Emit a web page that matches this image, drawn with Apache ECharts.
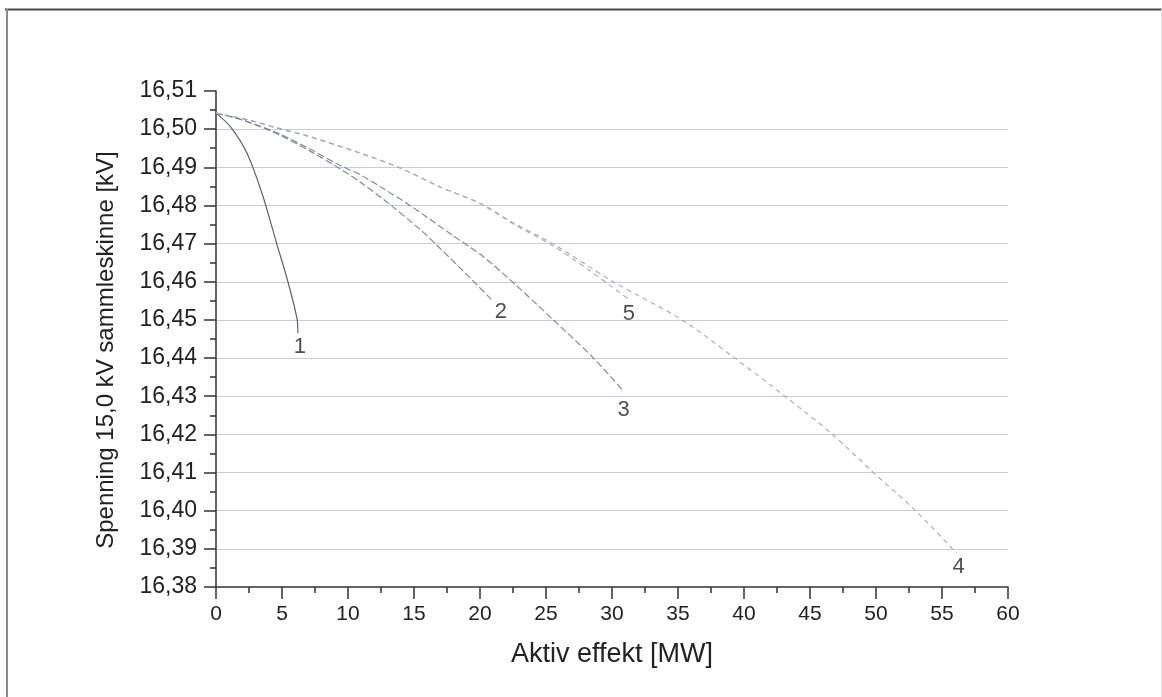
<!DOCTYPE html>
<html>
<head>
<meta charset="utf-8">
<title>Spenning 15,0 kV sammleskinne</title>
<script src="https://cdn.jsdelivr.net/npm/echarts@6/dist/echarts.min.js"></script>
<style>
  html, body { margin: 0; padding: 0; background: #ffffff; }
  #chart { width: 1162px; height: 697px; }
</style>
</head>
<body>
<div id="chart"></div>
<script>
// Voltage on the 15,0 kV busbar [kV] against active power [MW], five cases.
const kurve1 = [[0, 16.5042], [1.1, 16.5006], [2.35, 16.4937], [3.5, 16.483], [4.6, 16.470], [5.45, 16.460], [6.15, 16.450], [6.2, 16.4466]];
const kurve2 = [[0, 16.5042], [2, 16.5024], [4.6, 16.4988], [7.1, 16.4943], [9.4, 16.4896], [10.9, 16.4862], [13.2, 16.4802], [15.5, 16.4736], [16.7, 16.4697], [19.4, 16.4605], [20.9, 16.4552]];
const kurve3 = [[0, 16.5042], [2, 16.5024], [4.6, 16.4991], [7.1, 16.4948], [9.4, 16.4905], [10.9, 16.4881], [12.5, 16.4848], [14.7, 16.480], [17.7, 16.4727], [20.2, 16.4667], [22.6, 16.4595], [25.5, 16.4502], [28.6, 16.440], [30.8, 16.4316]];
const kurve4 = [[0, 16.5042], [2.3, 16.5025], [4.6, 16.5003], [7.1, 16.498], [10.9, 16.4937], [13.9, 16.4899], [17, 16.4848], [20, 16.4806], [22.5, 16.4755], [25.5, 16.470], [30.1, 16.460], [35.3, 16.450], [39.3, 16.440], [43.1, 16.430], [46.7, 16.420], [49.8, 16.410], [53, 16.400], [55.8, 16.390], [56.1, 16.3888]];
const kurve5 = [[0, 16.5042], [2.3, 16.5026], [4.6, 16.5004], [7.1, 16.4981], [10.9, 16.4938], [13.9, 16.4899], [17, 16.4848], [20, 16.4805], [22.5, 16.4752], [25.5, 16.4695], [28.2, 16.4632], [31.2, 16.4556]];
const kurveNavn = ['1', '2', '3', '4', '5'];

const xMin = 0, xMax = 60, xStep = 5;
const yMin = 16.38, yMax = 16.51, yStep = 0.01;

const kurver = [kurve1, kurve2, kurve3, kurve4, kurve5];

// line look for each case, and where its number sits below the end point
const linjeStil = [
  { color: '#5a6474', width: 1.2, type: 'solid' },
  { color: '#7a8496', width: 1.1, type: [7, 3] },
  { color: '#7a8496', width: 1.1, type: [7, 3] },
  { color: '#a3abb9', width: 1.1, type: [5, 4] },
  { color: '#a3abb9', width: 1.1, type: [5, 4] }
];
const etikettForskyvning = [[2, 14], [9, 12], [1, 20], [2, 14], [1, 15]];

const fontFamily = '"Liberation Sans", Arial, sans-serif';
const tekstFarge = '#222222';

const linjeSerier = kurver.map((data, i) => ({
  name: kurveNavn[i],
  type: 'line',
  data: data,
  showSymbol: false,
  smooth: 0.3,
  lineStyle: linjeStil[i],
  silent: true,
  z: 3
}));

const etikettSerie = {
  type: 'scatter',
  symbolSize: 0,
  silent: true,
  data: kurver.map((data, i) => ({
    value: data[data.length - 1],
    label: {
      show: true,
      formatter: kurveNavn[i],
      position: 'inside',
      offset: etikettForskyvning[i],
      color: tekstFarge,
      fontFamily: fontFamily,
      fontSize: 22
    }
  })),
  z: 4
};

const chart = echarts.init(document.getElementById('chart'), null, { renderer: 'canvas' });

chart.setOption({
  backgroundColor: '#ffffff',
  animation: false,
  grid: { left: 216, top: 91, right: 154, bottom: 110, containLabel: false },
  xAxis: {
    type: 'value',
    min: xMin, max: xMax, interval: xStep,
    name: 'Aktiv effekt [MW]',
    nameLocation: 'middle',
    nameGap: 54,
    nameTextStyle: { color: tekstFarge, fontFamily: fontFamily, fontSize: 27 },
    axisLine: { show: true, onZero: false, lineStyle: { color: '#333333', width: 1.5 } },
    axisTick: { show: true, inside: false, length: 12, lineStyle: { color: '#333333', width: 1.5 } },
    minorTick: { show: true, splitNumber: 2, length: 6, lineStyle: { color: '#333333', width: 1.5 } },
    splitLine: { show: false },
    axisLabel: { color: tekstFarge, fontFamily: fontFamily, fontSize: 21, margin: 17 }
  },
  yAxis: {
    type: 'value',
    min: yMin, max: yMax, interval: yStep,
    name: 'Spenning 15,0 kV sammleskinne [kV]',
    nameLocation: 'middle',
    nameGap: 98,
    nameRotate: 90,
    nameTextStyle: { color: tekstFarge, fontFamily: fontFamily, fontSize: 24, padding: [0, 22, 0, 0] },
    axisLine: { show: true, onZero: false, lineStyle: { color: '#333333', width: 1.5 } },
    axisTick: { show: true, inside: false, length: 12, lineStyle: { color: '#333333', width: 1.5 } },
    minorTick: { show: true, splitNumber: 2, length: 6, lineStyle: { color: '#333333', width: 1.5 } },
    splitLine: { show: true, showMinLine: false, showMaxLine: false, lineStyle: { color: '#c6cdd8', width: 1.2 } },
    axisLabel: {
      color: tekstFarge, fontFamily: fontFamily, fontSize: 23, margin: 19,
      formatter: v => v.toFixed(2).replace('.', ',')
    }
  },
  graphic: [
    { type: 'line', shape: { x1: 5, y1: 9.5, x2: 1162, y2: 9.5 }, style: { stroke: '#4a4a4a', lineWidth: 2 }, silent: true },
    { type: 'line', shape: { x1: 7, y1: 9, x2: 7, y2: 697 }, style: { stroke: '#8c8c8c', lineWidth: 2 }, silent: true },
    { type: 'line', shape: { x1: 1161.5, y1: 9, x2: 1161.5, y2: 697 }, style: { stroke: '#e2e2e2', lineWidth: 1 }, silent: true }
  ],
  series: linjeSerier.concat([etikettSerie])
});
</script>
</body>
</html>
